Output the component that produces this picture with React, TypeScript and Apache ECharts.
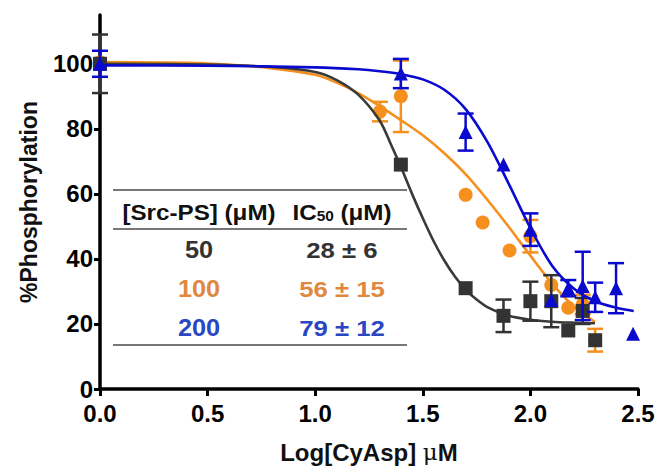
import React, { useEffect, useRef } from "react";
import * as echarts from "echarts";

// ---- Data ----
const yTicks = [0, 20, 40, 60, 80, 100];

// 50 µM Src-PS (black squares)
const blackX = [0, 1.398, 1.699, 1.875, 2.0, 2.097, 2.176, 2.243, 2.301];
const blackY = [100, 69, 31, 22.5, 27, 27, 18, 24, 15];
const blackErr = [9, 0, 0, 5, 6, 8, 0, 4, 0];
const blackFitX = [0, 0.5, 0.8, 1.0, 1.1, 1.2, 1.3, 1.35, 1.4, 1.45, 1.5, 1.55, 1.6, 1.65, 1.7, 1.75, 1.8, 1.9, 2.0, 2.1, 2.2, 2.3];
const blackFitY = [100, 99.8, 99, 97.5, 95, 90.5, 82.5, 75.5, 68, 60, 52.5, 45.5, 39.5, 34.5, 30.5, 27.5, 25.2, 22.5, 21.3, 20.7, 20.4, 20.2];

// 100 µM Src-PS (orange circles)
const orangeX = [0, 1.301, 1.398, 1.699, 1.778, 1.903, 2.0, 2.097, 2.176, 2.243, 2.301];
const orangeY = [100.5, 85.3, 90, 59.7, 51.2, 42.6, 47, 32, 25, 26, 15];
const orangeErr = [0, 3, 11, 0, 0, 0, 5, 0, 0, 3, 3.5];
const orangeFitX = [0, 0.5, 0.8, 1.0, 1.1, 1.2, 1.3, 1.4, 1.5, 1.6, 1.7, 1.8, 1.9, 2.0, 2.1, 2.2, 2.3];
const orangeFitY = [100.5, 100.1, 98.6, 96.6, 94.2, 91, 87, 82.6, 78, 72.5, 66, 58.2, 49.8, 41, 32.5, 25.5, 20.6];

// 200 µM Src-PS (blue triangles)
const blueX = [0, 1.398, 1.699, 1.875, 2.0, 2.097, 2.176, 2.243, 2.301, 2.398, 2.477];
const blueY = [100, 97, 79, 69, 49, 27.4, 31, 31.7, 28.2, 31, 17];
const blueErr = [4, 4.5, 5.7, 0, 5, 0, 2.5, 10.5, 4.5, 7.7, 0];
const blueFitX = [0, 0.5, 1.0, 1.2, 1.3, 1.4, 1.5, 1.6, 1.7, 1.8, 1.9, 2.0, 2.1, 2.2, 2.3, 2.4, 2.48];
const blueFitY = [99.5, 99.4, 98.9, 98.3, 97.7, 96.8, 95.2, 92, 86, 76, 63, 49.5, 38, 31, 27, 25, 24];

// Table
const tableConc = ["50", "100", "200"];
const tableIC50 = ["28 ± 6", "56 ± 15", "79 ± 12"];

const BLACK = "#333333";
const ORANGE = "#F5901F";
const BLUE = "#0A0ACE";
const ORANGE_TXT = "#E0883F";
const BLUE_TXT = "#2A46C2";
const FONT = "'Liberation Sans', Arial, Helvetica, sans-serif";

function zip(xs: number[], ys: number[]) {
  return xs.map((x, i) => [x, ys[i]]);
}

function errSeries(xs: number[], ys: number[], es: number[], color: string, z: number) {
  const data = xs
    .map((x, i) => [x, ys[i] - es[i], ys[i] + es[i], es[i]])
    .filter((d) => d[3] > 0);
  return {
    type: "custom",
    data,
    z,
    silent: true,
    encode: { x: 0, y: [1, 2] },
    renderItem: (params: any, api: any) => {
      const x = api.value(0);
      const lo = api.coord([x, api.value(1)]);
      const hi = api.coord([x, api.value(2)]);
      const w = 8;
      const style = { stroke: color, lineWidth: 2.5, fill: "none" };
      return {
        type: "group",
        children: [
          { type: "line", shape: { x1: lo[0], y1: lo[1], x2: hi[0], y2: hi[1] }, style },
          { type: "line", shape: { x1: lo[0] - w, y1: lo[1], x2: lo[0] + w, y2: lo[1] }, style },
          { type: "line", shape: { x1: hi[0] - w, y1: hi[1], x2: hi[0] + w, y2: hi[1] }, style },
        ],
      };
    },
  };
}

function fitSeries(xs: number[], ys: number[], color: string, z: number) {
  return {
    type: "line",
    data: zip(xs, ys),
    showSymbol: false,
    smooth: 0.3,
    lineStyle: { color, width: 2.6 },
    z,
    silent: true,
  };
}

function ptSeries(xs: number[], ys: number[], color: string, symbol: string, size: number, z: number) {
  return {
    type: "scatter",
    data: zip(xs, ys),
    symbol,
    symbolSize: size,
    itemStyle: { color, opacity: 1 },
    z,
    silent: true,
  };
}

export default function App() {
  const ref = useRef<HTMLDivElement>(null);

  useEffect(() => {
    if (!ref.current) return;
    const chart = echarts.init(ref.current, null, { renderer: "svg" });

    const tableLeft = 113;
    const tableRight = 407;
    const col1 = 199;
    const col2 = 342;
    const rowYs = [250, 289, 328];
    const rowColors = [BLACK, ORANGE_TXT, BLUE_TXT];
    const lineStyle = { stroke: "#4a4a4a", lineWidth: 1.5 };

    const graphics: any[] = [
      { type: "line", shape: { x1: tableLeft, y1: 190, x2: tableRight, y2: 190 }, style: lineStyle, z: 10 },
      { type: "line", shape: { x1: tableLeft, y1: 229, x2: tableRight, y2: 229 }, style: lineStyle, z: 10 },
      { type: "line", shape: { x1: tableLeft, y1: 345, x2: tableRight, y2: 345 }, style: lineStyle, z: 10 },
      {
        type: "text",
        x: col1,
        y: 212,
        scaleX: 1.1,
        z: 10,
        style: {
          text: "[Src-PS] (μM)",
          fill: "#111",
          font: `bold 22px ${FONT}`,
          textAlign: "center",
          textVerticalAlign: "middle",
        },
      },
      {
        type: "text",
        x: col2,
        y: 212,
        scaleX: 1.1,
        z: 10,
        style: {
          text: "{a|IC}{s|50}{a| (μM)}",
          fill: "#111",
          textAlign: "center",
          textVerticalAlign: "middle",
          rich: {
            a: { font: `bold 22px ${FONT}`, fill: "#111" },
            s: { font: `bold 14px ${FONT}`, fill: "#111", padding: [9, 0, 0, 0] },
          },
        },
      },
    ];
    tableConc.forEach((t, i) => {
      graphics.push({
        type: "text",
        x: col1,
        y: rowYs[i],
        scaleX: 1.1,
        z: 10,
        style: {
          text: t,
          fill: rowColors[i],
          font: `bold 23px ${FONT}`,
          textAlign: "center",
          textVerticalAlign: "middle",
        },
      });
      graphics.push({
        type: "text",
        x: col2,
        y: rowYs[i],
        scaleX: 1.12,
        z: 10,
        style: {
          text: tableIC50[i],
          fill: rowColors[i],
          font: `bold 23px ${FONT}`,
          textAlign: "center",
          textVerticalAlign: "middle",
        },
      });
    });

    chart.setOption({
      animation: false,
      backgroundColor: "#ffffff",
      grid: { left: 100, right: 21, top: 15, bottom: 77, outerBoundsMode: "none", containLabel: false },
      xAxis: {
        type: "value",
        min: 0,
        max: 2.5,
        interval: 0.5,
        name: "Log[CyAsp] {m|μ}M",
        nameLocation: "middle",
        nameGap: 51,
        nameTextStyle: {
          color: "#111",
          fontFamily: FONT,
          fontWeight: "bold",
          fontSize: 24,
          rich: { m: { fontFamily: "'DejaVu Serif', serif", fontWeight: "normal", fontSize: 23, color: "#111" } },
        },
        axisLine: { lineStyle: { color: "#000", width: 3.5 } },
        axisTick: { show: true, length: 7, lineStyle: { color: "#000", width: 3 } },
        axisLabel: {
          color: "#000",
          fontFamily: FONT,
          fontWeight: "bold",
          fontSize: 24,
          margin: 12,
          formatter: (v: number) => v.toFixed(1),
        },
        splitLine: { show: false },
      },
      yAxis: {
        type: "value",
        min: 0,
        max: 115,
        name: "%Phosphorylation",
        nameLocation: "middle",
        nameGap: 60,
        nameTextStyle: { color: "#111", fontFamily: FONT, fontWeight: "bold", fontSize: 23 },
        axisLine: { lineStyle: { color: "#000", width: 3.5 } },
        axisTick: { show: true, length: 6, customValues: yTicks, lineStyle: { color: "#000", width: 3 } },
        axisLabel: {
          color: "#000",
          fontFamily: FONT,
          fontWeight: "bold",
          fontSize: 24,
          margin: 7,
          customValues: yTicks,
        },
        splitLine: { show: false },
      },
      graphic: graphics,
      series: [
        fitSeries(orangeFitX, orangeFitY, ORANGE, 2),
        errSeries(orangeX, orangeY, orangeErr, ORANGE, 3),
        ptSeries(orangeX, orangeY, ORANGE, "circle", 14, 4),
        fitSeries(blackFitX, blackFitY, "#3a3a3a", 5),
        errSeries(blackX, blackY, blackErr, BLACK, 6),
        ptSeries(blackX, blackY, BLACK, "rect", 14, 7),
        fitSeries(blueFitX, blueFitY, BLUE, 8),
        errSeries(blueX, blueY, blueErr, BLUE, 9),
        ptSeries(blueX, blueY, BLUE, "triangle", 14, 10),
      ],
    });

    return () => chart.dispose();
  }, []);

  return (
    <div
      ref={ref}
      style={{ position: "absolute", left: 0, top: 0, width: 659, height: 466 }}
    />
  );
}
